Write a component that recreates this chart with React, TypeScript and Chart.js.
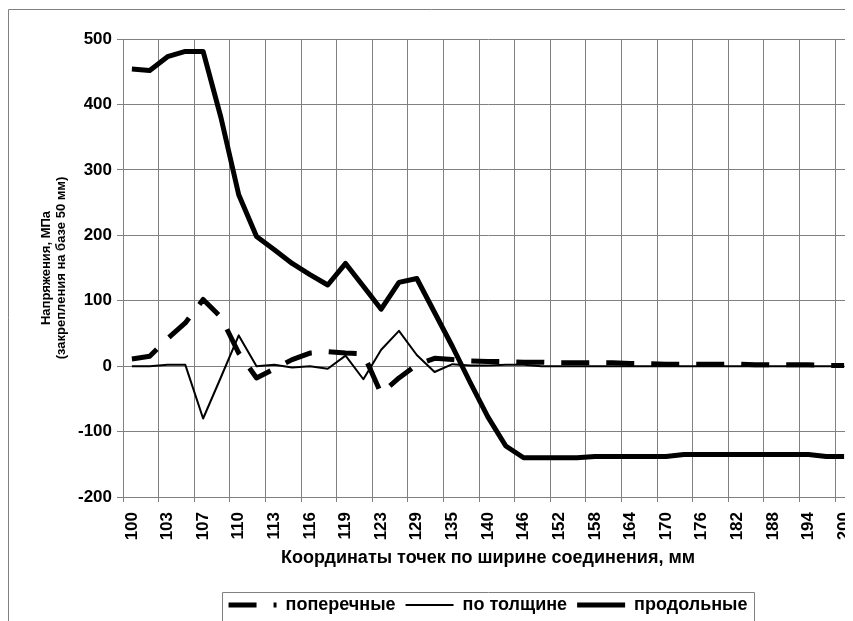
import React, { useEffect, useRef } from 'react';
import { Chart, registerables } from 'chart.js';

Chart.register(...registerables);

// X categories (every second one is labelled on the axis)
const categories = [
  '100', '102', '103', '105', '107', '108', '110', '112', '113', '115', '116',
  '118', '119', '121', '123', '126', '129', '132', '135', '137', '140', '143',
  '146', '149', '152', '155', '158', '161', '164', '167', '170', '173', '176',
  '179', '182', '185', '188', '191', '194', '197', '200',
];

// поперечные (dashed)
const transverse = [
  11, 15, 42, 66, 102, 75, 20, -18, -4, 10, 20,
  22, 20, 19, -42, -18, 2, 12, 10, 8, 7,
  7, 6, 6, 5, 5, 5, 5, 4, 4, 3,
  3, 3, 3, 3, 2, 2, 2, 2, 1, 1,
];

// по толщине (thin)
const thickness = [
  0, 0, 2, 2, -80, -17, 47, 0, 2, -2, 0,
  -4, 16, -20, 25, 54, 17, -9, 3, 1, 1,
  2, 2, 0, 0, 0, 0, 0, 0, 0, 0,
  0, 0, 0, 0, 0, 0, 0, 0, 0, 0,
];

// продольные (thick)
const longitudinal = [
  454, 452, 473, 481, 481, 380, 262, 198, 178, 157, 140,
  124, 157, 122, 87, 128, 134, 82, 30, -25, -78,
  -122, -140, -140, -140, -140, -138, -138, -138, -138, -138,
  -135, -135, -135, -135, -135, -135, -135, -135, -138, -138,
];

const seriesNames = ['поперечные', 'по толщине', 'продольные'];
const yTitle = ['Напряжения, МПа', '(закрепления на базе 50 мм)'];
const xTitle = 'Координаты точек по ширине соединения, мм';
const yMin = -200;
const yMax = 500;
const yStep = 100;

const FONT = "'Liberation Sans', Arial, Helvetica, sans-serif";
const GRID = '#808080';
const INK = '#000000';

export default function App() {
  const ref = useRef<HTMLCanvasElement>(null);

  useEffect(() => {
    document.documentElement.style.overflow = 'hidden';
    document.body.style.overflow = 'hidden';
    const canvas = ref.current;
    if (!canvas) return;

    const decor = {
      id: 'decor',
      afterLayout(chart: any) {
        const lg = chart.legend;
        const ca = chart.chartArea;
        if (lg && ca) {
          const d = (ca.left + ca.right) / 2 - (lg.left + lg.right) / 2;
          lg.left += d;
          lg.right += d;
        }
      },
      beforeDraw(chart: any) {
        const { ctx, width, height } = chart;
        ctx.save();
        ctx.strokeStyle = GRID;
        ctx.lineWidth = 1;
        ctx.beginPath();
        ctx.moveTo(0.5, height + 5);
        ctx.lineTo(0.5, 1.5);
        ctx.lineTo(width + 5, 1.5);
        ctx.stroke();
        ctx.restore();
      },
      afterDraw(chart: any) {
        const hb = chart.legend && chart.legend.legendHitBoxes;
        if (!hb || !hb.length) return;
        const { ctx, height } = chart;
        const l = Math.round(Math.min(...hb.map((h: any) => h.left)) - 7) + 0.5;
        const r = Math.round(Math.max(...hb.map((h: any) => h.left + h.width)) + 7) + 0.5;
        const t = Math.round(hb[0].top - 4) + 0.5;
        ctx.save();
        ctx.strokeStyle = GRID;
        ctx.lineWidth = 1;
        ctx.beginPath();
        ctx.moveTo(l, height + 5);
        ctx.lineTo(l, t);
        ctx.lineTo(r, t);
        ctx.lineTo(r, height + 5);
        ctx.stroke();
        ctx.restore();
      },
    };

    const chart = new Chart(canvas, {
      type: 'line',
      data: {
        labels: categories,
        datasets: [
          {
            label: seriesNames[0],
            data: transverse,
            borderColor: INK,
            backgroundColor: INK,
            borderWidth: 5,
            borderDash: [28, 17],
            borderCapStyle: 'butt',
            borderJoinStyle: 'round',
            pointRadius: 0,
            tension: 0,
            fill: false,
          },
          {
            label: seriesNames[1],
            data: thickness,
            borderColor: INK,
            backgroundColor: INK,
            borderWidth: 2,
            borderJoinStyle: 'round',
            pointRadius: 0,
            tension: 0,
            fill: false,
          },
          {
            label: seriesNames[2],
            data: longitudinal,
            borderColor: INK,
            backgroundColor: INK,
            borderWidth: 5,
            borderJoinStyle: 'round',
            pointRadius: 0,
            tension: 0,
            fill: false,
          },
        ],
      },
      options: {
        responsive: false,
        animation: false,
        events: [],
        layout: { padding: { top: 31, left: 0, right: 0, bottom: 0 } },
        plugins: {
          tooltip: { enabled: false },
          legend: {
            display: true,
            position: 'bottom',
            labels: {
              color: INK,
              font: { family: FONT, size: 18, weight: 'bold' },
              padding: 10,
              usePointStyle: true,
              pointStyle: 'line',
              pointStyleWidth: 48,
              generateLabels: (c: any) => {
                const items = (Chart.defaults as any).plugins.legend.labels.generateLabels(c);
                return items.map((it: any, i: number) => {
                  const ds = c.data.datasets[it.datasetIndex ?? i];
                  return {
                    ...it,
                    pointStyle: 'line',
                    lineCap: 'butt',
                    lineWidth: ds.borderWidth,
                    lineDash: ds.borderDash || [],
                    lineDashOffset: 0,
                    strokeStyle: ds.borderColor,
                  };
                });
              },
            },
          },
        },
        scales: {
          x: {
            type: 'category',
            offset: true,
            grid: {
              offset: true,
              color: (c: any) => (c.index % 2 === 0 ? GRID : 'rgba(0,0,0,0)'),
              lineWidth: 1,
              tickLength: 5,
            },
            border: { color: GRID, width: 1 },
            ticks: {
              autoSkip: false,
              minRotation: 90,
              maxRotation: 90,
              padding: 10,
              color: INK,
              font: { family: FONT, size: 17, weight: 'bold' },
              callback: (_v: any, i: number) => (i % 2 === 0 ? categories[i] : ''),
            },
            title: {
              display: true,
              text: xTitle,
              color: INK,
              font: { family: FONT, size: 18, weight: 'bold' },
              padding: { top: 0, bottom: 17 },
            },
            afterFit: (s: any) => {
              s.height = 89;
              s.paddingLeft = 0;
              s.paddingRight = 0;
            },
          },
          y: {
            type: 'linear',
            min: yMin,
            max: yMax,
            ticks: {
              stepSize: yStep,
              padding: 5,
              color: INK,
              font: { family: FONT, size: 17, weight: 'bold' },
            },
            grid: { color: GRID, lineWidth: 1, tickLength: 6 },
            border: { color: GRID, width: 1 },
            title: {
              display: true,
              text: yTitle,
              color: INK,
              font: { family: FONT, size: 13, weight: 'bold', lineHeight: 1.15 },
              padding: { top: 31, bottom: 0 },
            },
            afterFit: (s: any) => {
              s.width = 115;
              s.paddingTop = 0;
              s.paddingBottom = 0;
            },
          },
        },
      },
      plugins: [decor],
    } as any);

    return () => chart.destroy();
  }, []);

  return (
    <canvas
      ref={ref}
      width={845}
      height={616}
      style={{ display: 'block', width: 845, height: 616 }}
    />
  );
}
